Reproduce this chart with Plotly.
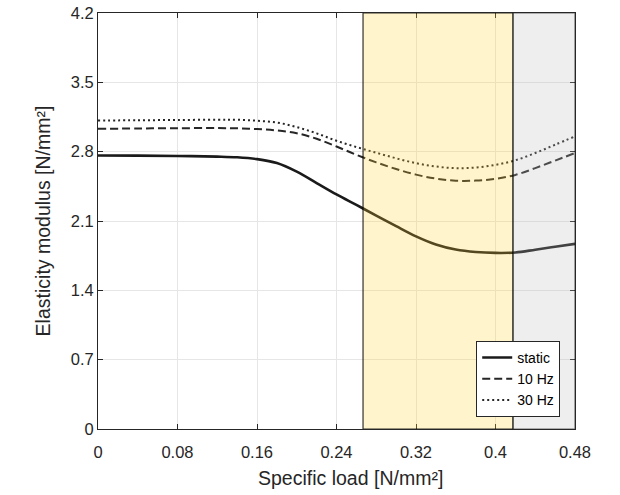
import plotly.graph_objects as go

# Data
load = [0, 0.04, 0.08, 0.12, 0.14, 0.16, 0.18, 0.20, 0.22, 0.24, 0.26, 0.28, 0.30,
        0.32, 0.34, 0.36, 0.38, 0.40, 0.42, 0.44, 0.46, 0.48]
e_static = [2.761, 2.760, 2.757, 2.750, 2.743, 2.725, 2.685, 2.598, 2.483, 2.368, 2.262, 2.155, 2.048,
            1.945, 1.863, 1.812, 1.787, 1.778, 1.782, 1.810, 1.840, 1.869]
e_10hz = [3.031, 3.034, 3.037, 3.038, 3.036, 3.028, 3.014, 2.986, 2.930, 2.852, 2.768, 2.692, 2.625,
          2.568, 2.528, 2.507, 2.508, 2.526, 2.565, 2.634, 2.710, 2.786]
e_30hz = [3.115, 3.117, 3.120, 3.122, 3.122, 3.112, 3.094, 3.048, 2.985, 2.910, 2.847, 2.789, 2.733,
          2.684, 2.650, 2.634, 2.640, 2.667, 2.713, 2.786, 2.870, 2.954]

zone_yellow = [0.2667, 0.4176]
zone_gray = [0.4176, 0.48]

x_ticks = [0, 0.08, 0.16, 0.24, 0.32, 0.40, 0.48]
x_ticklabels = ["0", "0.08", "0.16", "0.24", "0.32", "0.4", "0.48"]
y_ticks = [0, 0.7, 1.4, 2.1, 2.8, 3.5, 4.2]
y_ticklabels = ["0", "0.7", "1.4", "2.1", "2.8", "3.5", "4.2"]

x_title = "Specific load [N/mm²]"
y_title = "Elasticity modulus [N/mm²]"

fig = go.Figure()
fig.add_trace(go.Scatter(x=load, y=e_static, name="static", mode="lines",
                         line=dict(color="#1a1a1a", width=2.6, shape="spline", smoothing=1)))
fig.add_trace(go.Scatter(x=load, y=e_10hz, name="10 Hz", mode="lines",
                         line=dict(color="#262626", width=2, dash="8px,4px", shape="spline", smoothing=1)))
fig.add_trace(go.Scatter(x=load, y=e_30hz, name="30 Hz", mode="lines",
                         line=dict(color="#262626", width=2, dash="2px,3px", shape="spline", smoothing=1)))

fig.add_shape(type="rect", xref="x", yref="y", x0=zone_yellow[0], x1=zone_yellow[1], y0=0, y1=4.2,
              fillcolor="rgba(255,212,52,0.25)", line=dict(color="rgba(0,0,0,0.8)", width=1.2), layer="above")
fig.add_shape(type="rect", xref="x", yref="y", x0=zone_gray[0], x1=zone_gray[1], y0=0, y1=4.2,
              fillcolor="rgba(188,188,188,0.25)", line=dict(color="rgba(0,0,0,0.55)", width=1.2), layer="above")

tick_font = dict(family="Liberation Sans, Arial", size=16.5, color="#262626")
title_font = dict(family="Liberation Sans, Arial", size=19.5, color="#262626")

axis_common = dict(showline=True, linecolor="#262626", linewidth=1, mirror="allticks",
                   ticks="inside", ticklen=5, tickcolor="#262626",
                   showgrid=True, gridcolor="#e6e6e6", gridwidth=1, zeroline=False,
                   tickfont=tick_font, ticklabeloverflow="allow")

fig.update_xaxes(range=[0, 0.48], tickvals=x_ticks, ticktext=x_ticklabels,
                 ticklabelstandoff=8, **axis_common)
fig.update_yaxes(range=[0, 4.2], tickvals=y_ticks, ticktext=y_ticklabels,
                 title=dict(text=y_title, font=title_font, standoff=14),
                 **axis_common)

fig.add_annotation(text=x_title, xref="paper", yref="paper", x=0.529, y=-0.118,
                   xanchor="center", yanchor="middle", showarrow=False, font=title_font)

fig.update_layout(
    width=620, height=495,
    margin=dict(l=98, r=45, t=13, b=66, autoexpand=False),
    paper_bgcolor="white", plot_bgcolor="white",
    showlegend=True,
    legend=dict(x=0.969, y=0.029, xanchor="right", yanchor="bottom",
                bgcolor="white", bordercolor="#262626", borderwidth=1,
                font=dict(family="Liberation Sans, Arial", size=14, color="#000000"),
                tracegroupgap=0, itemwidth=30),
)

fig.write_html("out.html", config={"displayModeBar": False},
               post_script="document.body.style.margin='0px';")
